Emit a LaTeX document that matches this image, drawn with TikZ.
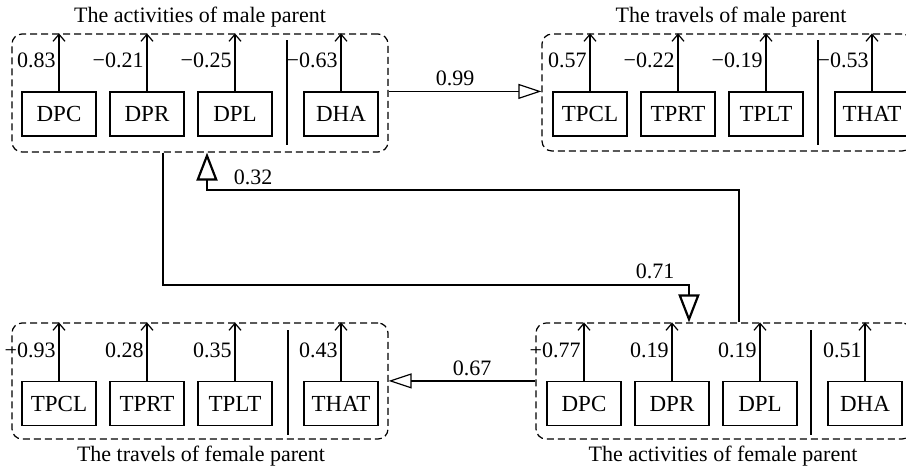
\documentclass[tikz,border=0pt]{standalone}
\usepackage{fontspec}
\setmainfont{Liberation Serif}
\usetikzlibrary{arrows.meta}
\begin{document}
\begin{tikzpicture}[x=0.5pt,y=-0.5pt,
  grp/.style={draw, dash pattern=on 3.5pt off 2pt, rounded corners=5pt, line width=0.6pt, inner sep=0},
  var/.style={draw, line width=0.6pt, minimum width=37pt, minimum height=22pt, inner sep=0, font=\fontsize{11.5}{13}\selectfont},
  coef/.style={anchor=east, inner sep=0, font=\fontsize{11}{13}\selectfont},
  ttl/.style={inner sep=0, font=\fontsize{11}{13}\selectfont},
  lbl/.style={inner sep=0, font=\fontsize{11}{13}\selectfont},
  sep/.style={line width=0.6pt},
  uparr/.style={-{Straight Barb[length=3.5pt,width=6pt]}, line width=0.6pt},
  thinpath/.style={-{Triangle[open,length=11.5pt,width=7.5pt]}, line width=0.6pt},
  thickpath/.style={-{Triangle[open,length=14pt,width=10.5pt]}, line width=1.1pt}]

\useasboundingbox (0,0) rectangle (906,473);

% group frames
\node[grp, minimum width=188pt, minimum height=59pt] (TL) at (200,93) {};
\node[grp, minimum width=185pt, minimum height=58.5pt] (TR) at (727,92.5) {};
\node[grp, minimum width=188pt, minimum height=58pt] (BL) at (200,381) {};
\node[grp, minimum width=188pt, minimum height=58pt] (BR) at (724,381) {};

% titles
\node[ttl] (tTL) at (200,17) {The activities of male parent};
\node[ttl] (tTR) at (731,17) {The travels of male parent};
\node[ttl] (tBL) at (201,456) {The travels of female parent};
\node[ttl] (tBR) at (723,456) {The activities of female parent};

% top-left variables
\node[var] (a1) at (59,114) {DPC};
\node[var] (a2) at (147,114) {DPR};
\node[var] (a3) at (235,114) {DPL};
\node[var] (a4) at (341,114) {DHA};
% top-right variables
\node[var] (b1) at (590,114) {TPCL};
\node[var] (b2) at (678,114) {TPRT};
\node[var] (b3) at (766,114) {TPLT};
\node[var] (b4) at (872,114) {THAT};
% bottom-left variables
\node[var] (c1) at (59,403.5) {TPCL};
\node[var] (c2) at (147,403.5) {TPRT};
\node[var] (c3) at (235,403.5) {TPLT};
\node[var] (c4) at (341,403.5) {THAT};
% bottom-right variables
\node[var] (d1) at (584,403.5) {DPC};
\node[var] (d2) at (672,403.5) {DPR};
\node[var] (d3) at (760,403.5) {DPL};
\node[var] (d4) at (865,403.5) {DHA};

% indicator arrows and loadings
\foreach \n/\g/\v in {a1/TL/0.83, a2/TL/−0.21, a3/TL/−0.25, a4/TL/−0.63,
                      b1/TR/0.57, b2/TR/−0.22, b3/TR/−0.19, b4/TR/−0.53,
                      c1/BL/−0.93, c2/BL/0.28, c3/BL/0.35, c4/BL/0.43,
                      d1/BR/−0.77, d2/BR/0.19, d3/BR/0.19, d4/BR/0.51}{
  \draw[uparr] (\n.north) -- (\n.north |- \g.north);
  \node[coef] at ([xshift=-1.5pt,yshift=15.5pt]\n.north) {\v};
}

% separators
\draw[sep] (287,40) -- (287,145);
\draw[sep] (818,40) -- (818,145);
\draw[sep] (288,330) -- (288,435);
\draw[sep] (811,330) -- (811,435);

% structural paths
\draw[thinpath] (TL.east |- a1.north) -- (TR.west |- a1.north);
\node[lbl] (l99) at (455,78) {0.99};
\draw[thinpath] (BR.west |- d1.north) -- (BL.east |- d1.north);
\node[lbl] (l67) at (472,368) {0.67};

\draw[thickpath] (TL.south -| 163,0) -- (163,285) -- (689,285) -- (BR.north -| 689,0);
\node[lbl] (l71) at (655,271) {0.71};
\draw[thickpath] (BR.north -| 739,0) -- (739,190) -- (207,190) -- (TL.south -| 207,0);
\node[lbl] (l32) at (253,177) {0.32};
\end{tikzpicture}
\end{document}
